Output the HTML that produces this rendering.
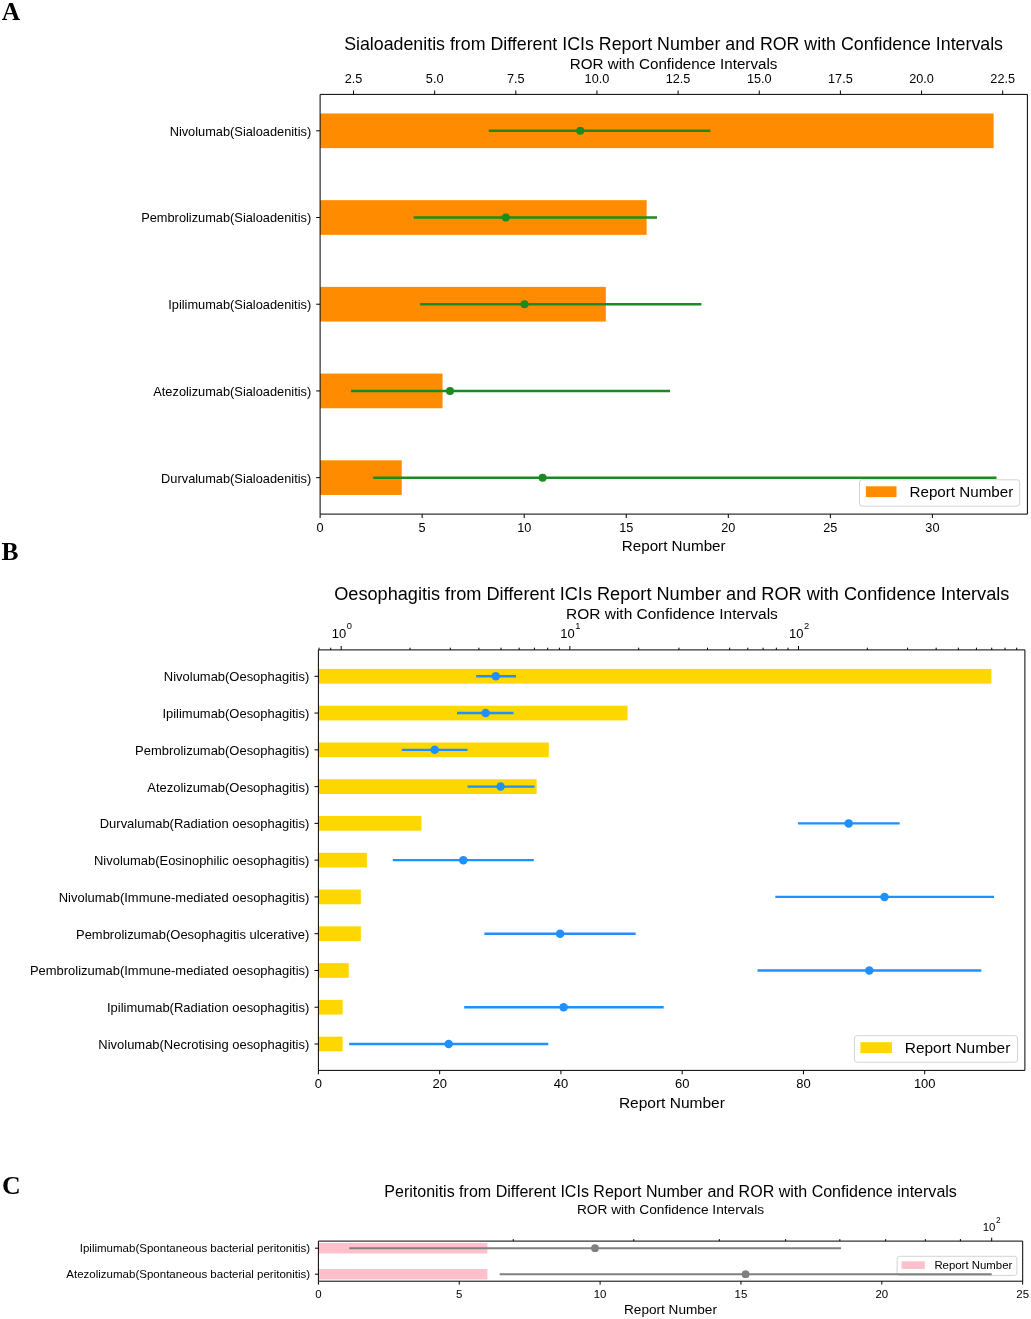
<!DOCTYPE html>
<html><head><meta charset="utf-8"><style>
html,body{margin:0;padding:0;background:#fff;}
svg{display:block;will-change:transform;}
</style></head><body>
<svg width="1031" height="1319" viewBox="0 0 1031 1319">
<rect x="0" y="0" width="1031" height="1319" fill="#fff"/>
<rect x="320.10" y="113.46" width="673.53" height="34.68" fill="#ff8c00"/>
<rect x="320.10" y="200.17" width="326.56" height="34.68" fill="#ff8c00"/>
<rect x="320.10" y="286.88" width="285.74" height="34.68" fill="#ff8c00"/>
<rect x="320.10" y="373.59" width="122.46" height="34.68" fill="#ff8c00"/>
<rect x="320.10" y="460.30" width="81.64" height="34.68" fill="#ff8c00"/>
<rect x="859.50" y="479.80" width="160.20" height="26.30" fill="#fff" stroke="#d4d4d4" stroke-width="1" rx="2.5"/>
<rect x="865.90" y="486.30" width="30.60" height="10.80" fill="#ff8c00"/>
<text x="909.50" y="496.80" font-family='"Liberation Sans", sans-serif' font-size="15.2" text-anchor="start" font-weight="normal" fill="#000">Report Number</text>
<line x1="488.80" y1="130.80" x2="710.40" y2="130.80" stroke="#198b20" stroke-width="2.5" stroke-linecap="butt"/>
<circle cx="580.30" cy="130.80" r="4.0" fill="#198b20"/>
<line x1="413.70" y1="217.51" x2="657.00" y2="217.51" stroke="#198b20" stroke-width="2.5" stroke-linecap="butt"/>
<circle cx="505.80" cy="217.51" r="4.0" fill="#198b20"/>
<line x1="420.10" y1="304.22" x2="701.40" y2="304.22" stroke="#198b20" stroke-width="2.5" stroke-linecap="butt"/>
<circle cx="524.50" cy="304.22" r="4.0" fill="#198b20"/>
<line x1="351.00" y1="390.93" x2="670.00" y2="390.93" stroke="#198b20" stroke-width="2.5" stroke-linecap="butt"/>
<circle cx="450.00" cy="390.93" r="4.0" fill="#198b20"/>
<line x1="373.10" y1="477.64" x2="996.50" y2="477.64" stroke="#198b20" stroke-width="2.5" stroke-linecap="butt"/>
<circle cx="542.60" cy="477.64" r="4.0" fill="#198b20"/>
<line x1="320.10" y1="94.40" x2="1027.40" y2="94.40" stroke="#000" stroke-width="1.0" stroke-linecap="butt"/>
<line x1="320.10" y1="514.10" x2="1027.40" y2="514.10" stroke="#000" stroke-width="1.0" stroke-linecap="butt"/>
<line x1="320.10" y1="94.40" x2="320.10" y2="514.10" stroke="#000" stroke-width="1.0" stroke-linecap="butt"/>
<line x1="1027.40" y1="94.40" x2="1027.40" y2="514.10" stroke="#000" stroke-width="1.0" stroke-linecap="butt"/>
<line x1="320.10" y1="514.10" x2="320.10" y2="518.00" stroke="#000" stroke-width="1.0" stroke-linecap="butt"/>
<text x="320.10" y="531.80" font-family='"Liberation Sans", sans-serif' font-size="12.7" text-anchor="middle" font-weight="normal" fill="#000">0</text>
<line x1="422.15" y1="514.10" x2="422.15" y2="518.00" stroke="#000" stroke-width="1.0" stroke-linecap="butt"/>
<text x="422.15" y="531.80" font-family='"Liberation Sans", sans-serif' font-size="12.7" text-anchor="middle" font-weight="normal" fill="#000">5</text>
<line x1="524.20" y1="514.10" x2="524.20" y2="518.00" stroke="#000" stroke-width="1.0" stroke-linecap="butt"/>
<text x="524.20" y="531.80" font-family='"Liberation Sans", sans-serif' font-size="12.7" text-anchor="middle" font-weight="normal" fill="#000">10</text>
<line x1="626.25" y1="514.10" x2="626.25" y2="518.00" stroke="#000" stroke-width="1.0" stroke-linecap="butt"/>
<text x="626.25" y="531.80" font-family='"Liberation Sans", sans-serif' font-size="12.7" text-anchor="middle" font-weight="normal" fill="#000">15</text>
<line x1="728.30" y1="514.10" x2="728.30" y2="518.00" stroke="#000" stroke-width="1.0" stroke-linecap="butt"/>
<text x="728.30" y="531.80" font-family='"Liberation Sans", sans-serif' font-size="12.7" text-anchor="middle" font-weight="normal" fill="#000">20</text>
<line x1="830.35" y1="514.10" x2="830.35" y2="518.00" stroke="#000" stroke-width="1.0" stroke-linecap="butt"/>
<text x="830.35" y="531.80" font-family='"Liberation Sans", sans-serif' font-size="12.7" text-anchor="middle" font-weight="normal" fill="#000">25</text>
<line x1="932.40" y1="514.10" x2="932.40" y2="518.00" stroke="#000" stroke-width="1.0" stroke-linecap="butt"/>
<text x="932.40" y="531.80" font-family='"Liberation Sans", sans-serif' font-size="12.7" text-anchor="middle" font-weight="normal" fill="#000">30</text>
<line x1="353.50" y1="94.40" x2="353.50" y2="90.50" stroke="#000" stroke-width="1.0" stroke-linecap="butt"/>
<text x="353.50" y="82.90" font-family='"Liberation Sans", sans-serif' font-size="12.7" text-anchor="middle" font-weight="normal" fill="#000">2.5</text>
<line x1="434.65" y1="94.40" x2="434.65" y2="90.50" stroke="#000" stroke-width="1.0" stroke-linecap="butt"/>
<text x="434.65" y="82.90" font-family='"Liberation Sans", sans-serif' font-size="12.7" text-anchor="middle" font-weight="normal" fill="#000">5.0</text>
<line x1="515.80" y1="94.40" x2="515.80" y2="90.50" stroke="#000" stroke-width="1.0" stroke-linecap="butt"/>
<text x="515.80" y="82.90" font-family='"Liberation Sans", sans-serif' font-size="12.7" text-anchor="middle" font-weight="normal" fill="#000">7.5</text>
<line x1="596.95" y1="94.40" x2="596.95" y2="90.50" stroke="#000" stroke-width="1.0" stroke-linecap="butt"/>
<text x="596.95" y="82.90" font-family='"Liberation Sans", sans-serif' font-size="12.7" text-anchor="middle" font-weight="normal" fill="#000">10.0</text>
<line x1="678.10" y1="94.40" x2="678.10" y2="90.50" stroke="#000" stroke-width="1.0" stroke-linecap="butt"/>
<text x="678.10" y="82.90" font-family='"Liberation Sans", sans-serif' font-size="12.7" text-anchor="middle" font-weight="normal" fill="#000">12.5</text>
<line x1="759.25" y1="94.40" x2="759.25" y2="90.50" stroke="#000" stroke-width="1.0" stroke-linecap="butt"/>
<text x="759.25" y="82.90" font-family='"Liberation Sans", sans-serif' font-size="12.7" text-anchor="middle" font-weight="normal" fill="#000">15.0</text>
<line x1="840.40" y1="94.40" x2="840.40" y2="90.50" stroke="#000" stroke-width="1.0" stroke-linecap="butt"/>
<text x="840.40" y="82.90" font-family='"Liberation Sans", sans-serif' font-size="12.7" text-anchor="middle" font-weight="normal" fill="#000">17.5</text>
<line x1="921.55" y1="94.40" x2="921.55" y2="90.50" stroke="#000" stroke-width="1.0" stroke-linecap="butt"/>
<text x="921.55" y="82.90" font-family='"Liberation Sans", sans-serif' font-size="12.7" text-anchor="middle" font-weight="normal" fill="#000">20.0</text>
<line x1="1002.70" y1="94.40" x2="1002.70" y2="90.50" stroke="#000" stroke-width="1.0" stroke-linecap="butt"/>
<text x="1002.70" y="82.90" font-family='"Liberation Sans", sans-serif' font-size="12.7" text-anchor="middle" font-weight="normal" fill="#000">22.5</text>
<line x1="316.20" y1="130.80" x2="320.10" y2="130.80" stroke="#000" stroke-width="1.0" stroke-linecap="butt"/>
<text x="311.20" y="135.70" font-family='"Liberation Sans", sans-serif' font-size="12.8" text-anchor="end" font-weight="normal" fill="#000">Nivolumab(Sialoadenitis)</text>
<line x1="316.20" y1="217.51" x2="320.10" y2="217.51" stroke="#000" stroke-width="1.0" stroke-linecap="butt"/>
<text x="311.20" y="222.41" font-family='"Liberation Sans", sans-serif' font-size="12.8" text-anchor="end" font-weight="normal" fill="#000">Pembrolizumab(Sialoadenitis)</text>
<line x1="316.20" y1="304.22" x2="320.10" y2="304.22" stroke="#000" stroke-width="1.0" stroke-linecap="butt"/>
<text x="311.20" y="309.12" font-family='"Liberation Sans", sans-serif' font-size="12.8" text-anchor="end" font-weight="normal" fill="#000">Ipilimumab(Sialoadenitis)</text>
<line x1="316.20" y1="390.93" x2="320.10" y2="390.93" stroke="#000" stroke-width="1.0" stroke-linecap="butt"/>
<text x="311.20" y="395.83" font-family='"Liberation Sans", sans-serif' font-size="12.8" text-anchor="end" font-weight="normal" fill="#000">Atezolizumab(Sialoadenitis)</text>
<line x1="316.20" y1="477.64" x2="320.10" y2="477.64" stroke="#000" stroke-width="1.0" stroke-linecap="butt"/>
<text x="311.20" y="482.54" font-family='"Liberation Sans", sans-serif' font-size="12.8" text-anchor="end" font-weight="normal" fill="#000">Durvalumab(Sialoadenitis)</text>
<text x="673.60" y="49.90" font-family='"Liberation Sans", sans-serif' font-size="17.8" text-anchor="middle" font-weight="normal" fill="#000">Sialoadenitis from Different ICIs Report Number and ROR with Confidence Intervals</text>
<text x="673.60" y="68.70" font-family='"Liberation Sans", sans-serif' font-size="15.2" text-anchor="middle" font-weight="normal" fill="#000">ROR with Confidence Intervals</text>
<text x="673.70" y="550.60" font-family='"Liberation Sans", sans-serif' font-size="15.2" text-anchor="middle" font-weight="normal" fill="#000">Report Number</text>
<text x="1.80" y="19.90" font-family='"Liberation Serif", serif' font-size="25.5" text-anchor="start" font-weight="bold" fill="#000">A</text>
<rect x="318.40" y="668.95" width="672.99" height="14.70" fill="#ffd700"/>
<rect x="318.40" y="705.72" width="309.21" height="14.70" fill="#ffd700"/>
<rect x="318.40" y="742.49" width="230.39" height="14.70" fill="#ffd700"/>
<rect x="318.40" y="779.26" width="218.27" height="14.70" fill="#ffd700"/>
<rect x="318.40" y="816.03" width="103.07" height="14.70" fill="#ffd700"/>
<rect x="318.40" y="852.80" width="48.50" height="14.70" fill="#ffd700"/>
<rect x="318.40" y="889.57" width="42.44" height="14.70" fill="#ffd700"/>
<rect x="318.40" y="926.34" width="42.44" height="14.70" fill="#ffd700"/>
<rect x="318.40" y="963.11" width="30.31" height="14.70" fill="#ffd700"/>
<rect x="318.40" y="999.88" width="24.25" height="14.70" fill="#ffd700"/>
<rect x="318.40" y="1036.65" width="24.25" height="14.70" fill="#ffd700"/>
<rect x="854.40" y="1035.70" width="163.10" height="26.50" fill="#fff" stroke="#d4d4d4" stroke-width="1" rx="2.5"/>
<rect x="860.40" y="1042.20" width="31.50" height="10.80" fill="#ffd700"/>
<text x="904.80" y="1053.20" font-family='"Liberation Sans", sans-serif' font-size="15.45" text-anchor="start" font-weight="normal" fill="#000">Report Number</text>
<line x1="476.20" y1="676.30" x2="516.00" y2="676.30" stroke="#1e90ff" stroke-width="2.4" stroke-linecap="butt"/>
<circle cx="495.80" cy="676.30" r="4.25" fill="#1e90ff"/>
<line x1="457.00" y1="713.07" x2="513.60" y2="713.07" stroke="#1e90ff" stroke-width="2.4" stroke-linecap="butt"/>
<circle cx="485.60" cy="713.07" r="4.25" fill="#1e90ff"/>
<line x1="401.80" y1="749.84" x2="467.50" y2="749.84" stroke="#1e90ff" stroke-width="2.4" stroke-linecap="butt"/>
<circle cx="434.70" cy="749.84" r="4.25" fill="#1e90ff"/>
<line x1="467.50" y1="786.61" x2="534.50" y2="786.61" stroke="#1e90ff" stroke-width="2.4" stroke-linecap="butt"/>
<circle cx="500.60" cy="786.61" r="4.25" fill="#1e90ff"/>
<line x1="797.90" y1="823.38" x2="899.70" y2="823.38" stroke="#1e90ff" stroke-width="2.4" stroke-linecap="butt"/>
<circle cx="848.70" cy="823.38" r="4.25" fill="#1e90ff"/>
<line x1="392.80" y1="860.15" x2="533.80" y2="860.15" stroke="#1e90ff" stroke-width="2.4" stroke-linecap="butt"/>
<circle cx="463.30" cy="860.15" r="4.25" fill="#1e90ff"/>
<line x1="775.30" y1="896.92" x2="994.00" y2="896.92" stroke="#1e90ff" stroke-width="2.4" stroke-linecap="butt"/>
<circle cx="884.50" cy="896.92" r="4.25" fill="#1e90ff"/>
<line x1="484.40" y1="933.69" x2="635.70" y2="933.69" stroke="#1e90ff" stroke-width="2.4" stroke-linecap="butt"/>
<circle cx="560.10" cy="933.69" r="4.25" fill="#1e90ff"/>
<line x1="757.50" y1="970.46" x2="981.30" y2="970.46" stroke="#1e90ff" stroke-width="2.4" stroke-linecap="butt"/>
<circle cx="869.30" cy="970.46" r="4.25" fill="#1e90ff"/>
<line x1="464.20" y1="1007.23" x2="663.70" y2="1007.23" stroke="#1e90ff" stroke-width="2.4" stroke-linecap="butt"/>
<circle cx="563.60" cy="1007.23" r="4.25" fill="#1e90ff"/>
<line x1="349.20" y1="1044.00" x2="548.30" y2="1044.00" stroke="#1e90ff" stroke-width="2.4" stroke-linecap="butt"/>
<circle cx="448.70" cy="1044.00" r="4.25" fill="#1e90ff"/>
<line x1="318.40" y1="649.90" x2="1024.90" y2="649.90" stroke="#000" stroke-width="1.0" stroke-linecap="butt"/>
<line x1="318.40" y1="1070.40" x2="1024.90" y2="1070.40" stroke="#000" stroke-width="1.0" stroke-linecap="butt"/>
<line x1="318.40" y1="649.90" x2="318.40" y2="1070.40" stroke="#000" stroke-width="1.0" stroke-linecap="butt"/>
<line x1="1024.90" y1="649.90" x2="1024.90" y2="1070.40" stroke="#000" stroke-width="1.0" stroke-linecap="butt"/>
<line x1="318.40" y1="1070.40" x2="318.40" y2="1074.30" stroke="#000" stroke-width="1.0" stroke-linecap="butt"/>
<text x="318.40" y="1088.30" font-family='"Liberation Sans", sans-serif' font-size="12.96" text-anchor="middle" font-weight="normal" fill="#000">0</text>
<line x1="439.66" y1="1070.40" x2="439.66" y2="1074.30" stroke="#000" stroke-width="1.0" stroke-linecap="butt"/>
<text x="439.66" y="1088.30" font-family='"Liberation Sans", sans-serif' font-size="12.96" text-anchor="middle" font-weight="normal" fill="#000">20</text>
<line x1="560.92" y1="1070.40" x2="560.92" y2="1074.30" stroke="#000" stroke-width="1.0" stroke-linecap="butt"/>
<text x="560.92" y="1088.30" font-family='"Liberation Sans", sans-serif' font-size="12.96" text-anchor="middle" font-weight="normal" fill="#000">40</text>
<line x1="682.18" y1="1070.40" x2="682.18" y2="1074.30" stroke="#000" stroke-width="1.0" stroke-linecap="butt"/>
<text x="682.18" y="1088.30" font-family='"Liberation Sans", sans-serif' font-size="12.96" text-anchor="middle" font-weight="normal" fill="#000">60</text>
<line x1="803.44" y1="1070.40" x2="803.44" y2="1074.30" stroke="#000" stroke-width="1.0" stroke-linecap="butt"/>
<text x="803.44" y="1088.30" font-family='"Liberation Sans", sans-serif' font-size="12.96" text-anchor="middle" font-weight="normal" fill="#000">80</text>
<line x1="924.70" y1="1070.40" x2="924.70" y2="1074.30" stroke="#000" stroke-width="1.0" stroke-linecap="butt"/>
<text x="924.70" y="1088.30" font-family='"Liberation Sans", sans-serif' font-size="12.96" text-anchor="middle" font-weight="normal" fill="#000">100</text>
<line x1="341.20" y1="649.90" x2="341.20" y2="646.00" stroke="#000" stroke-width="1.0" stroke-linecap="butt"/>
<text x="341.80" y="638.40" font-family='"Liberation Sans", sans-serif' font-size="12.96" text-anchor="middle">10<tspan font-size="9.33" dx="0.6" dy="-8.94">0</tspan></text>
<line x1="569.85" y1="649.90" x2="569.85" y2="646.00" stroke="#000" stroke-width="1.0" stroke-linecap="butt"/>
<text x="570.45" y="638.40" font-family='"Liberation Sans", sans-serif' font-size="12.96" text-anchor="middle">10<tspan font-size="9.33" dx="0.6" dy="-8.94">1</tspan></text>
<line x1="798.50" y1="649.90" x2="798.50" y2="646.00" stroke="#000" stroke-width="1.0" stroke-linecap="butt"/>
<text x="799.10" y="638.40" font-family='"Liberation Sans", sans-serif' font-size="12.96" text-anchor="middle">10<tspan font-size="9.33" dx="0.6" dy="-8.94">2</tspan></text>
<line x1="319.04" y1="649.90" x2="319.04" y2="647.70" stroke="#000" stroke-width="1.0" stroke-linecap="butt"/>
<line x1="330.74" y1="649.90" x2="330.74" y2="647.70" stroke="#000" stroke-width="1.0" stroke-linecap="butt"/>
<line x1="410.03" y1="649.90" x2="410.03" y2="647.70" stroke="#000" stroke-width="1.0" stroke-linecap="butt"/>
<line x1="450.29" y1="649.90" x2="450.29" y2="647.70" stroke="#000" stroke-width="1.0" stroke-linecap="butt"/>
<line x1="478.86" y1="649.90" x2="478.86" y2="647.70" stroke="#000" stroke-width="1.0" stroke-linecap="butt"/>
<line x1="501.02" y1="649.90" x2="501.02" y2="647.70" stroke="#000" stroke-width="1.0" stroke-linecap="butt"/>
<line x1="519.12" y1="649.90" x2="519.12" y2="647.70" stroke="#000" stroke-width="1.0" stroke-linecap="butt"/>
<line x1="534.43" y1="649.90" x2="534.43" y2="647.70" stroke="#000" stroke-width="1.0" stroke-linecap="butt"/>
<line x1="547.69" y1="649.90" x2="547.69" y2="647.70" stroke="#000" stroke-width="1.0" stroke-linecap="butt"/>
<line x1="559.39" y1="649.90" x2="559.39" y2="647.70" stroke="#000" stroke-width="1.0" stroke-linecap="butt"/>
<line x1="638.68" y1="649.90" x2="638.68" y2="647.70" stroke="#000" stroke-width="1.0" stroke-linecap="butt"/>
<line x1="678.94" y1="649.90" x2="678.94" y2="647.70" stroke="#000" stroke-width="1.0" stroke-linecap="butt"/>
<line x1="707.51" y1="649.90" x2="707.51" y2="647.70" stroke="#000" stroke-width="1.0" stroke-linecap="butt"/>
<line x1="729.67" y1="649.90" x2="729.67" y2="647.70" stroke="#000" stroke-width="1.0" stroke-linecap="butt"/>
<line x1="747.77" y1="649.90" x2="747.77" y2="647.70" stroke="#000" stroke-width="1.0" stroke-linecap="butt"/>
<line x1="763.08" y1="649.90" x2="763.08" y2="647.70" stroke="#000" stroke-width="1.0" stroke-linecap="butt"/>
<line x1="776.34" y1="649.90" x2="776.34" y2="647.70" stroke="#000" stroke-width="1.0" stroke-linecap="butt"/>
<line x1="788.04" y1="649.90" x2="788.04" y2="647.70" stroke="#000" stroke-width="1.0" stroke-linecap="butt"/>
<line x1="867.33" y1="649.90" x2="867.33" y2="647.70" stroke="#000" stroke-width="1.0" stroke-linecap="butt"/>
<line x1="907.59" y1="649.90" x2="907.59" y2="647.70" stroke="#000" stroke-width="1.0" stroke-linecap="butt"/>
<line x1="936.16" y1="649.90" x2="936.16" y2="647.70" stroke="#000" stroke-width="1.0" stroke-linecap="butt"/>
<line x1="958.32" y1="649.90" x2="958.32" y2="647.70" stroke="#000" stroke-width="1.0" stroke-linecap="butt"/>
<line x1="976.42" y1="649.90" x2="976.42" y2="647.70" stroke="#000" stroke-width="1.0" stroke-linecap="butt"/>
<line x1="991.73" y1="649.90" x2="991.73" y2="647.70" stroke="#000" stroke-width="1.0" stroke-linecap="butt"/>
<line x1="1004.99" y1="649.90" x2="1004.99" y2="647.70" stroke="#000" stroke-width="1.0" stroke-linecap="butt"/>
<line x1="1016.69" y1="649.90" x2="1016.69" y2="647.70" stroke="#000" stroke-width="1.0" stroke-linecap="butt"/>
<line x1="314.50" y1="676.30" x2="318.40" y2="676.30" stroke="#000" stroke-width="1.0" stroke-linecap="butt"/>
<text x="309.30" y="681.20" font-family='"Liberation Sans", sans-serif' font-size="12.96" text-anchor="end" font-weight="normal" fill="#000">Nivolumab(Oesophagitis)</text>
<line x1="314.50" y1="713.07" x2="318.40" y2="713.07" stroke="#000" stroke-width="1.0" stroke-linecap="butt"/>
<text x="309.30" y="717.97" font-family='"Liberation Sans", sans-serif' font-size="12.96" text-anchor="end" font-weight="normal" fill="#000">Ipilimumab(Oesophagitis)</text>
<line x1="314.50" y1="749.84" x2="318.40" y2="749.84" stroke="#000" stroke-width="1.0" stroke-linecap="butt"/>
<text x="309.30" y="754.74" font-family='"Liberation Sans", sans-serif' font-size="12.96" text-anchor="end" font-weight="normal" fill="#000">Pembrolizumab(Oesophagitis)</text>
<line x1="314.50" y1="786.61" x2="318.40" y2="786.61" stroke="#000" stroke-width="1.0" stroke-linecap="butt"/>
<text x="309.30" y="791.51" font-family='"Liberation Sans", sans-serif' font-size="12.96" text-anchor="end" font-weight="normal" fill="#000">Atezolizumab(Oesophagitis)</text>
<line x1="314.50" y1="823.38" x2="318.40" y2="823.38" stroke="#000" stroke-width="1.0" stroke-linecap="butt"/>
<text x="309.30" y="828.28" font-family='"Liberation Sans", sans-serif' font-size="12.96" text-anchor="end" font-weight="normal" fill="#000">Durvalumab(Radiation oesophagitis)</text>
<line x1="314.50" y1="860.15" x2="318.40" y2="860.15" stroke="#000" stroke-width="1.0" stroke-linecap="butt"/>
<text x="309.30" y="865.05" font-family='"Liberation Sans", sans-serif' font-size="12.96" text-anchor="end" font-weight="normal" fill="#000">Nivolumab(Eosinophilic oesophagitis)</text>
<line x1="314.50" y1="896.92" x2="318.40" y2="896.92" stroke="#000" stroke-width="1.0" stroke-linecap="butt"/>
<text x="309.30" y="901.82" font-family='"Liberation Sans", sans-serif' font-size="12.96" text-anchor="end" font-weight="normal" fill="#000">Nivolumab(Immune-mediated oesophagitis)</text>
<line x1="314.50" y1="933.69" x2="318.40" y2="933.69" stroke="#000" stroke-width="1.0" stroke-linecap="butt"/>
<text x="309.30" y="938.59" font-family='"Liberation Sans", sans-serif' font-size="12.96" text-anchor="end" font-weight="normal" fill="#000">Pembrolizumab(Oesophagitis ulcerative)</text>
<line x1="314.50" y1="970.46" x2="318.40" y2="970.46" stroke="#000" stroke-width="1.0" stroke-linecap="butt"/>
<text x="309.30" y="975.36" font-family='"Liberation Sans", sans-serif' font-size="12.96" text-anchor="end" font-weight="normal" fill="#000">Pembrolizumab(Immune-mediated oesophagitis)</text>
<line x1="314.50" y1="1007.23" x2="318.40" y2="1007.23" stroke="#000" stroke-width="1.0" stroke-linecap="butt"/>
<text x="309.30" y="1012.13" font-family='"Liberation Sans", sans-serif' font-size="12.96" text-anchor="end" font-weight="normal" fill="#000">Ipilimumab(Radiation oesophagitis)</text>
<line x1="314.50" y1="1044.00" x2="318.40" y2="1044.00" stroke="#000" stroke-width="1.0" stroke-linecap="butt"/>
<text x="309.30" y="1048.90" font-family='"Liberation Sans", sans-serif' font-size="12.96" text-anchor="end" font-weight="normal" fill="#000">Nivolumab(Necrotising oesophagitis)</text>
<text x="671.80" y="600.40" font-family='"Liberation Sans", sans-serif' font-size="18.15" text-anchor="middle" font-weight="normal" fill="#000">Oesophagitis from Different ICIs Report Number and ROR with Confidence Intervals</text>
<text x="671.90" y="619.40" font-family='"Liberation Sans", sans-serif' font-size="15.5" text-anchor="middle" font-weight="normal" fill="#000">ROR with Confidence Intervals</text>
<text x="671.90" y="1107.60" font-family='"Liberation Sans", sans-serif' font-size="15.5" text-anchor="middle" font-weight="normal" fill="#000">Report Number</text>
<text x="1.50" y="559.70" font-family='"Liberation Serif", serif' font-size="25.5" text-anchor="start" font-weight="bold" fill="#000">B</text>
<rect x="318.40" y="1242.96" width="169.02" height="10.48" fill="#ffc0cb"/>
<rect x="318.40" y="1268.96" width="169.02" height="10.48" fill="#ffc0cb"/>
<rect x="897.10" y="1256.30" width="119.80" height="19.10" fill="#fff" stroke="#d4d4d4" stroke-width="1" rx="2.5"/>
<rect x="901.60" y="1261.30" width="23.20" height="7.60" fill="#ffc0cb"/>
<text x="934.40" y="1269.30" font-family='"Liberation Sans", sans-serif' font-size="11.4" text-anchor="start" font-weight="normal" fill="#000">Report Number</text>
<line x1="349.20" y1="1248.20" x2="841.10" y2="1248.20" stroke="#808080" stroke-width="2.0" stroke-linecap="butt"/>
<circle cx="595.00" cy="1248.20" r="3.9" fill="#808080"/>
<line x1="499.70" y1="1274.20" x2="991.70" y2="1274.20" stroke="#808080" stroke-width="2.0" stroke-linecap="butt"/>
<circle cx="745.60" cy="1274.20" r="3.9" fill="#808080"/>
<line x1="318.40" y1="1241.10" x2="1022.70" y2="1241.10" stroke="#000" stroke-width="1.0" stroke-linecap="butt"/>
<line x1="318.40" y1="1281.20" x2="1022.70" y2="1281.20" stroke="#000" stroke-width="1.0" stroke-linecap="butt"/>
<line x1="318.40" y1="1241.10" x2="318.40" y2="1281.20" stroke="#000" stroke-width="1.0" stroke-linecap="butt"/>
<line x1="1022.70" y1="1241.10" x2="1022.70" y2="1281.20" stroke="#000" stroke-width="1.0" stroke-linecap="butt"/>
<line x1="318.40" y1="1281.20" x2="318.40" y2="1284.60" stroke="#000" stroke-width="1.0" stroke-linecap="butt"/>
<text x="318.40" y="1297.80" font-family='"Liberation Sans", sans-serif' font-size="11.45" text-anchor="middle" font-weight="normal" fill="#000">0</text>
<line x1="459.25" y1="1281.20" x2="459.25" y2="1284.60" stroke="#000" stroke-width="1.0" stroke-linecap="butt"/>
<text x="459.25" y="1297.80" font-family='"Liberation Sans", sans-serif' font-size="11.45" text-anchor="middle" font-weight="normal" fill="#000">5</text>
<line x1="600.10" y1="1281.20" x2="600.10" y2="1284.60" stroke="#000" stroke-width="1.0" stroke-linecap="butt"/>
<text x="600.10" y="1297.80" font-family='"Liberation Sans", sans-serif' font-size="11.45" text-anchor="middle" font-weight="normal" fill="#000">10</text>
<line x1="740.95" y1="1281.20" x2="740.95" y2="1284.60" stroke="#000" stroke-width="1.0" stroke-linecap="butt"/>
<text x="740.95" y="1297.80" font-family='"Liberation Sans", sans-serif' font-size="11.45" text-anchor="middle" font-weight="normal" fill="#000">15</text>
<line x1="881.80" y1="1281.20" x2="881.80" y2="1284.60" stroke="#000" stroke-width="1.0" stroke-linecap="butt"/>
<text x="881.80" y="1297.80" font-family='"Liberation Sans", sans-serif' font-size="11.45" text-anchor="middle" font-weight="normal" fill="#000">20</text>
<line x1="1022.65" y1="1281.20" x2="1022.65" y2="1284.60" stroke="#000" stroke-width="1.0" stroke-linecap="butt"/>
<text x="1022.65" y="1297.80" font-family='"Liberation Sans", sans-serif' font-size="11.45" text-anchor="middle" font-weight="normal" fill="#000">25</text>
<line x1="991.70" y1="1241.10" x2="991.70" y2="1237.70" stroke="#000" stroke-width="1.0" stroke-linecap="butt"/>
<text x="991.70" y="1231.00" font-family='"Liberation Sans", sans-serif' font-size="11.45" text-anchor="middle">10<tspan font-size="8.24" dx="0.6" dy="-7.90">2</tspan></text>
<line x1="513.26" y1="1241.10" x2="513.26" y2="1239.10" stroke="#000" stroke-width="1.0" stroke-linecap="butt"/>
<line x1="633.79" y1="1241.10" x2="633.79" y2="1239.10" stroke="#000" stroke-width="1.0" stroke-linecap="butt"/>
<line x1="719.31" y1="1241.10" x2="719.31" y2="1239.10" stroke="#000" stroke-width="1.0" stroke-linecap="butt"/>
<line x1="785.64" y1="1241.10" x2="785.64" y2="1239.10" stroke="#000" stroke-width="1.0" stroke-linecap="butt"/>
<line x1="839.84" y1="1241.10" x2="839.84" y2="1239.10" stroke="#000" stroke-width="1.0" stroke-linecap="butt"/>
<line x1="885.67" y1="1241.10" x2="885.67" y2="1239.10" stroke="#000" stroke-width="1.0" stroke-linecap="butt"/>
<line x1="925.37" y1="1241.10" x2="925.37" y2="1239.10" stroke="#000" stroke-width="1.0" stroke-linecap="butt"/>
<line x1="960.38" y1="1241.10" x2="960.38" y2="1239.10" stroke="#000" stroke-width="1.0" stroke-linecap="butt"/>
<line x1="315.00" y1="1248.20" x2="318.40" y2="1248.20" stroke="#000" stroke-width="1.0" stroke-linecap="butt"/>
<text x="310.20" y="1252.20" font-family='"Liberation Sans", sans-serif' font-size="11.52" text-anchor="end" font-weight="normal" fill="#000">Ipilimumab(Spontaneous bacterial peritonitis)</text>
<line x1="315.00" y1="1274.20" x2="318.40" y2="1274.20" stroke="#000" stroke-width="1.0" stroke-linecap="butt"/>
<text x="310.20" y="1278.20" font-family='"Liberation Sans", sans-serif' font-size="11.52" text-anchor="end" font-weight="normal" fill="#000">Atezolizumab(Spontaneous bacterial peritonitis)</text>
<text x="670.60" y="1197.30" font-family='"Liberation Sans", sans-serif' font-size="16.05" text-anchor="middle" font-weight="normal" fill="#000">Peritonitis from Different ICIs Report Number and ROR with Confidence intervals</text>
<text x="670.50" y="1213.80" font-family='"Liberation Sans", sans-serif' font-size="13.7" text-anchor="middle" font-weight="normal" fill="#000">ROR with Confidence Intervals</text>
<text x="670.50" y="1314.00" font-family='"Liberation Sans", sans-serif' font-size="13.6" text-anchor="middle" font-weight="normal" fill="#000">Report Number</text>
<text x="2.00" y="1193.90" font-family='"Liberation Serif", serif' font-size="25.8" text-anchor="start" font-weight="bold" fill="#000">C</text>
</svg>
</body></html>
